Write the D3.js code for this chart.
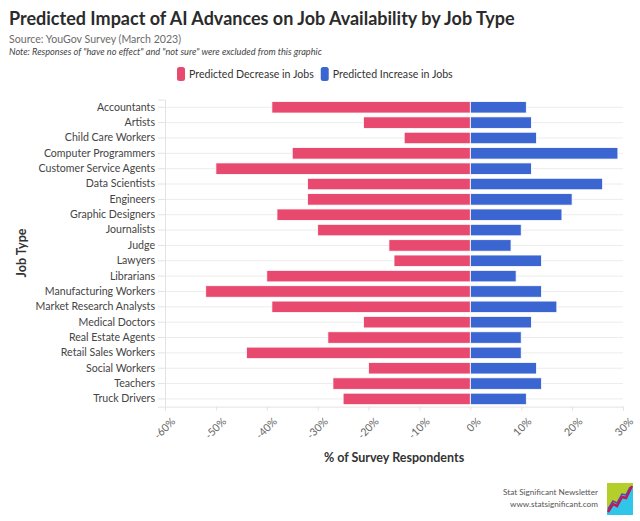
<!DOCTYPE html>
<html>
<head>
<meta charset="utf-8">
<script src="https://cdn.jsdelivr.net/npm/d3@7"></script>
<style>
  body { margin: 0; background: #fff; }
  svg { font-family: Lato, "Open Sans", sans-serif; }
</style>
</head>
<body>
<svg id="chart" width="640" height="521"></svg>
<script>
// values (percent of respondents)
var jobTypes = ["Accountants", "Artists", "Child Care Workers", "Computer Programmers",
    "Customer Service Agents", "Data Scientists", "Engineers", "Graphic Designers",
    "Journalists", "Judge", "Lawyers", "Librarians", "Manufacturing Workers",
    "Market Research Analysts", "Medical Doctors", "Real Estate Agents",
    "Retail Sales Workers", "Social Workers", "Teachers", "Truck Drivers"];
var decrease = [39, 21, 13, 35, 50, 32, 32, 38, 30, 16, 15, 40, 52, 39, 21, 28, 44, 20, 27, 25];
var increase = [11, 12, 13, 29, 12, 26, 20, 18, 10, 8, 14, 9, 14, 17, 12, 10, 10, 13, 14, 11];
var xTicks = [-60, -50, -40, -30, -20, -10, 0, 10, 20, 30];
var seriesNames = ["Predicted Decrease in Jobs", "Predicted Increase in Jobs"];

var red = "#e84a6f", blue = "#3b66d2";

var svg = d3.select("#chart"),
    plotLeft = 165, plotRight = 623, plotTop = 99.6, plotBottom = 406.6;

var x = d3.scaleLinear().domain([-60, 30]).range([plotLeft, plotRight]);
var y = d3.scaleBand().domain(jobTypes).range([plotTop, plotBottom])
    .paddingInner(0.25).paddingOuter(0.125);

// titles
svg.append("text").attr("x", 9).attr("y", 25)
    .attr("font-size", 18).attr("font-weight", 700).attr("fill", "#2b2b2b")
    .text("Predicted Impact of AI Advances on Job Availability by Job Type");
svg.append("text").attr("x", 9).attr("y", 43)
    .attr("font-size", 10.6).attr("fill", "#6b6b6b")
    .text("Source: YouGov Survey (March 2023)");
svg.append("text").attr("x", 9).attr("y", 55)
    .attr("font-size", 9.2).attr("font-style", "italic").attr("fill", "#444")
    .text('Note: Responses of "have no effect" and "not sure" were excluded from this graphic');

// legend
var legend = svg.append("g").attr("transform", "translate(177,74)");
var lx = 0;
seriesNames.forEach(function(name, i) {
    var item = legend.append("g").attr("transform", "translate(" + lx + ",0)");
    item.append("rect").attr("x", 0).attr("y", -7).attr("width", 8).attr("height", 14)
        .attr("rx", 2.5).attr("fill", i === 0 ? red : blue);
    var t = item.append("text").attr("x", 12).attr("y", 4)
        .attr("font-size", 10.6).attr("fill", "#333").text(name);
    lx += 12 + t.node().getComputedTextLength() + 7;
});

// gridlines at category centres
svg.append("g").selectAll("line")
    .data(jobTypes).enter().append("line")
    .attr("x1", plotLeft).attr("x2", plotRight)
    .attr("y1", function(d) { return y(d) + y.bandwidth() / 2; })
    .attr("y2", function(d) { return y(d) + y.bandwidth() / 2; })
    .attr("stroke", "#ececec").attr("stroke-width", 1);

// bars
var bars = svg.append("g");
bars.selectAll(".dec")
    .data(jobTypes).enter().append("rect")
    .attr("class", "dec")
    .attr("x", function(d, i) { return x(-decrease[i]); })
    .attr("y", function(d) { return y(d); })
    .attr("width", function(d, i) { return x(0) - x(-decrease[i]); })
    .attr("height", y.bandwidth())
    .attr("fill", red).attr("stroke", "#fff").attr("stroke-width", 0.8);
bars.selectAll(".inc")
    .data(jobTypes).enter().append("rect")
    .attr("class", "inc")
    .attr("x", x(0))
    .attr("y", function(d) { return y(d); })
    .attr("width", function(d, i) { return x(increase[i]) - x(0); })
    .attr("height", y.bandwidth())
    .attr("fill", blue).attr("stroke", "#fff").attr("stroke-width", 0.8);

// y axis
var yAxis = svg.append("g").attr("transform", "translate(" + plotLeft + ",0)")
    .call(d3.axisLeft(y).tickSize(7).tickPadding(3));
yAxis.select(".domain").attr("stroke", "#e3e3e3");
yAxis.selectAll(".tick line").attr("stroke", "#e3e3e3");
yAxis.selectAll("text").attr("font-size", 10.6).attr("fill", "#444")
    .attr("font-family", "Lato, sans-serif");

// x axis
var xAxis = svg.append("g").attr("transform", "translate(0," + plotBottom + ")")
    .call(d3.axisBottom(x).tickValues(xTicks).tickSize(4)
        .tickFormat(function(d) { return d + "%"; }));
xAxis.select(".domain").attr("stroke", "#e3e3e3");
xAxis.selectAll(".tick line").attr("stroke", "#e3e3e3");
xAxis.selectAll("text")
    .attr("font-size", 10.6).attr("fill", "#666").attr("font-family", "Lato, sans-serif")
    .attr("text-anchor", "end").attr("dy", "0.35em")
    .attr("transform", "translate(3,8) rotate(-45)");

// axis titles
svg.append("text").attr("x", 394).attr("y", 462).attr("text-anchor", "middle")
    .attr("font-size", 12.5).attr("font-weight", 700).attr("fill", "#333")
    .text("% of Survey Respondents");
svg.append("text").attr("transform", "translate(26,253) rotate(-90)")
    .attr("text-anchor", "middle")
    .attr("font-size", 12.5).attr("font-weight", 700).attr("fill", "#333")
    .text("Job Type");

// footer
svg.append("text").attr("x", 598).attr("y", 495).attr("text-anchor", "end")
    .attr("font-size", 8.2).attr("fill", "#555").text("Stat Significant Newsletter");
svg.append("text").attr("x", 598).attr("y", 507).attr("text-anchor", "end")
    .attr("font-size", 8.2).attr("fill", "#555").text("www.statsignificant.com");

// little logo
var logo = svg.append("g").attr("transform", "translate(607,483)");
logo.append("rect").attr("width", 26).attr("height", 32).attr("fill", "#2fc6ea");
logo.append("path").attr("d", "M0,0H26V4L20,10L15,12L9,20L4,22L0,26Z").attr("fill", "#b5cf2a");
logo.append("path").attr("d", "M1,29L6,21L10,23L15,14L19,15L25,3")
    .attr("fill", "none").attr("stroke", "#c2185b").attr("stroke-width", 2.5);
logo.append("path").attr("d", "M1,26L6,18L10,20L15,11L19,12L23,4")
    .attr("fill", "none").attr("stroke", "#6a3fa0").attr("stroke-width", 1.5);
</script>
</body>
</html>
